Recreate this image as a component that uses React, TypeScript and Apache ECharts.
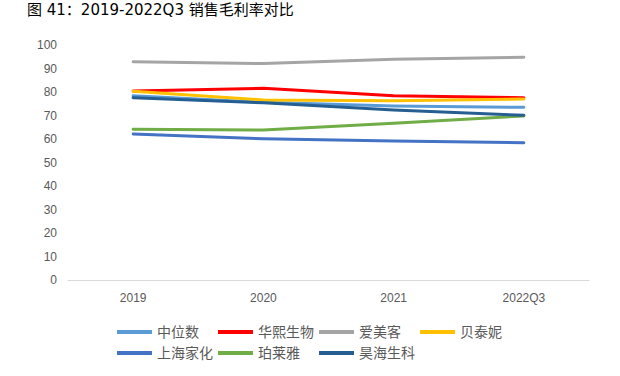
import React, { useEffect, useRef } from "react";
import * as echarts from "echarts";

const categories = ["2019", "2020", "2021", "2022Q3"];
const seriesNames = ["中位数", "华熙生物", "爱美客", "贝泰妮", "上海家化", "珀莱雅", "昊海生科"];
const median = [78.4, 75.6, 74.0, 73.5];
const huaxi = [80.4, 81.6, 78.4, 77.6];
const aimeike = [92.9, 92.1, 93.9, 94.8];
const betaini = [80.3, 76.6, 76.3, 77.0];
const shanghaiJiahua = [62.1, 60.1, 59.1, 58.4];
const proya = [64.2, 63.8, 66.7, 69.8];
const haohai = [77.6, 75.4, 72.3, 70.1];
const yTicks = [0, 10, 20, 30, 40, 50, 60, 70, 80, 90, 100];
const colors = ["#5B9BD5", "#FF0000", "#A5A5A5", "#FFC000", "#4472C4", "#70AD47", "#255E91"];

const seriesData = [median, huaxi, aimeike, betaini, shanghaiJiahua, proya, haohai];

export default function App() {
  const ref = useRef<HTMLDivElement>(null);
  useEffect(() => {
    if (!ref.current) return;
    const chart = echarts.init(ref.current, null, { renderer: "svg" });
    const font = "'Liberation Sans', Arial, 'Noto Sans CJK SC', sans-serif";
    const titleFont = "'DejaVu Sans', 'Noto Sans CJK SC', sans-serif";
    const legends = seriesNames.map((name, i) => {
      const col = i % 4;
      const row = Math.floor(i / 4);
      return {
        left: 117 + 101 * col,
        top: 325 + 21 * row,
        padding: 0,
        itemWidth: 35,
        itemHeight: 4,
        itemGap: 0,
        icon: "rect",
        data: [name],
        textStyle: { fontSize: 14, color: "#595959", fontFamily: font, padding: [0, 0, 0, 0] },
      };
    });
    chart.setOption({
      animation: false,
      backgroundColor: "#ffffff",
      title: {
        text: "图 41：2019-2022Q3 销售毛利率对比",
        left: 27,
        top: 0,
        padding: [2, 0, 0, 0],
        textStyle: { fontSize: 15, fontWeight: "normal", color: "#000000", fontFamily: titleFont },
      },
      grid: { left: 68, right: 31, top: 45, bottom: 96, containLabel: false },
      legend: legends,
      xAxis: {
        type: "category",
        data: categories,
        boundaryGap: true,
        axisLine: { lineStyle: { color: "#D9D9D9", width: 1 } },
        axisTick: { show: false },
        axisLabel: { color: "#595959", fontSize: 12, margin: 12, fontFamily: font },
      },
      yAxis: {
        type: "value",
        min: yTicks[0],
        max: yTicks[yTicks.length - 1],
        interval: 10,
        splitLine: { show: false },
        axisLine: { show: false },
        axisTick: { show: false },
        axisLabel: { color: "#595959", fontSize: 12, margin: 11, fontFamily: font },
      },
      series: seriesNames.map((name, i) => ({
        name,
        type: "line",
        data: seriesData[i],
        symbol: "none",
        color: colors[i],
        lineStyle: { width: 3, color: colors[i], cap: "round", join: "round" },
      })),
    });
    return () => chart.dispose();
  }, []);
  return (
    <div
      ref={ref}
      style={{ position: "fixed", left: 0, top: 0, width: 620, height: 376 }}
    />
  );
}
